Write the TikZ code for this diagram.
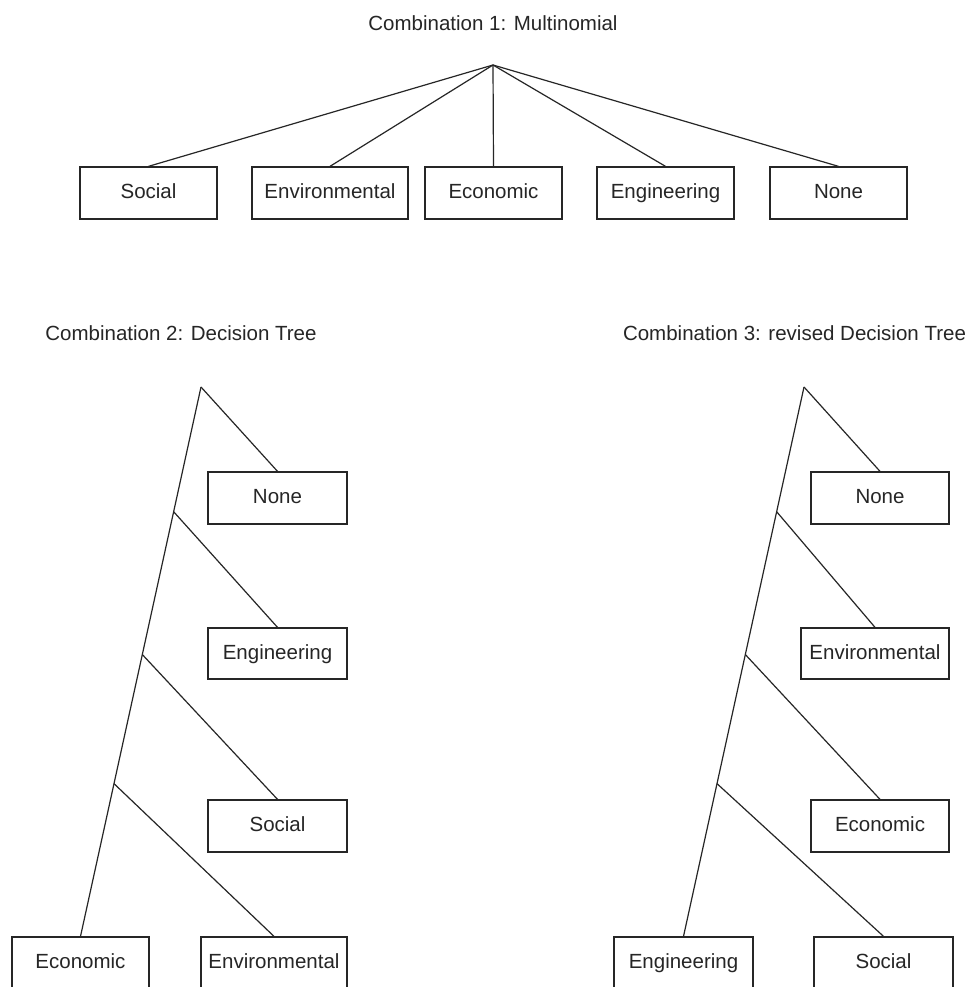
\documentclass[tikz,border=0pt]{standalone}
\usepackage{fontspec}
\setmainfont{Liberation Sans}
\usetikzlibrary{calc}
\begin{document}
\begin{tikzpicture}[x=1pt,y=-1pt,
  box/.style={draw=black!85, line width=1.3pt, minimum height=52pt, inner sep=0pt, text=black!85, text height=15pt, text depth=4pt, font=\fontsize{20.5}{24}\selectfont},
  ttl/.style={inner sep=0pt, text=black!85, font=\fontsize{20.5}{24}\selectfont},
  conn/.style={draw=black!85, line width=1.2pt}]
\useasboundingbox[fill=white] (0,0) rectangle (973,987);
% Combination 1
\node[ttl] (t1) at (493,23) {Combination 1: Multinomial};
\coordinate (a1) at (493,65);
\node[box, minimum width=137pt] (s1) at (148.5,193) {Social};
\node[box, minimum width=156pt] (v1) at (330,193) {Environmental};
\node[box, minimum width=137pt] (c1) at (493.5,193) {Economic};
\node[box, minimum width=137pt] (g1) at (665.5,193) {Engineering};
\node[box, minimum width=137pt] (n1) at (838.5,193) {None};
\foreach \b in {s1,v1,c1,g1,n1} \draw[conn] (a1) -- (\b.north);
% Combination 2
\node[ttl] (t2) at (181,333) {Combination 2: Decision Tree};
\coordinate (a2) at (201,387);
\node[box, minimum width=139pt] (n2) at (277.5,498) {None};
\node[box, minimum width=139pt, minimum height=51pt] (g2) at (277.5,653.5) {Engineering};
\node[box, minimum width=139pt] (s2) at (277.5,826) {Social};
\node[box, minimum width=137pt] (c2) at (80.5,963) {Economic};
\node[box, minimum width=146pt] (v2) at (274,963) {Environmental};
\draw[conn] (a2) -- (c2.north);
\coordinate (b21) at ($(a2)!0.227!(c2.north)$);
\coordinate (b22) at ($(a2)!0.487!(c2.north)$);
\coordinate (b23) at ($(a2)!0.722!(c2.north)$);
\draw[conn] (a2) -- (n2.north);
\draw[conn] (b21) -- (g2.north);
\draw[conn] (b22) -- (s2.north);
\draw[conn] (b23) -- (v2.north);
% Combination 3
\node[ttl] (t3) at (794.5,333) {Combination 3: revised Decision Tree};
\coordinate (a3) at (804,387);
\node[box, minimum width=138pt] (n3) at (880,498) {None};
\node[box, minimum width=148pt, minimum height=51pt] (v3) at (875,653.5) {Environmental};
\node[box, minimum width=138pt] (c3) at (880,826) {Economic};
\node[box, minimum width=139pt] (g3) at (683.5,963) {Engineering};
\node[box, minimum width=139pt] (s3) at (883.5,963) {Social};
\draw[conn] (a3) -- (g3.north);
\coordinate (b31) at ($(a3)!0.227!(g3.north)$);
\coordinate (b32) at ($(a3)!0.487!(g3.north)$);
\coordinate (b33) at ($(a3)!0.722!(g3.north)$);
\draw[conn] (a3) -- (n3.north);
\draw[conn] (b31) -- (v3.north);
\draw[conn] (b32) -- (c3.north);
\draw[conn] (b33) -- (s3.north);
\end{tikzpicture}
\end{document}
